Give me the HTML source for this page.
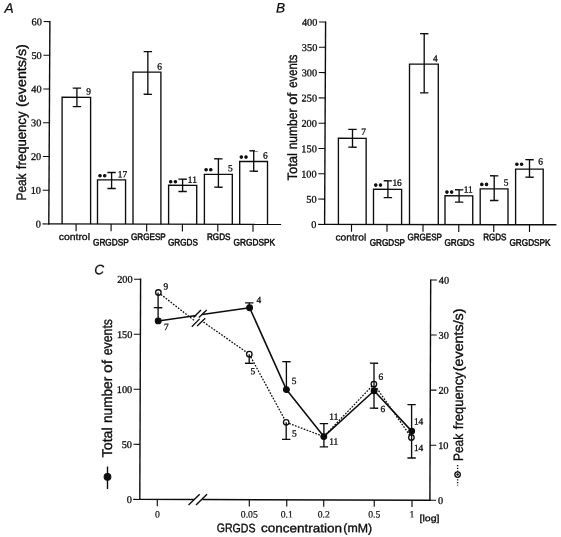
<!DOCTYPE html>
<html><head><meta charset="utf-8"><title>Figure</title>
<style>
html,body{margin:0;padding:0;background:#fff;}
body{width:561px;height:537px;overflow:hidden;}
svg{display:block;will-change:transform;}
svg line,svg path,svg circle{stroke:#0d0d0d;}
text{fill:#0d0d0d;stroke:none;}
.pl{font-family:"Liberation Sans",sans-serif;font-style:italic;font-size:13.7px;stroke:#0d0d0d;stroke-width:0.25px;}
.tk{font-family:"Liberation Serif",serif;font-size:10.3px;stroke:#0d0d0d;stroke-width:0.3px;}
.xt{font-family:"Liberation Serif",serif;font-size:9.7px;stroke:#0d0d0d;stroke-width:0.2px;}
.nm{font-family:"Liberation Serif",serif;font-size:9.4px;stroke:#0d0d0d;stroke-width:0.3px;}
.ct{font-family:"Liberation Sans",sans-serif;font-size:9.6px;stroke:#0d0d0d;stroke-width:0.3px;}
.yl{font-family:"Liberation Sans",sans-serif;font-size:13.6px;stroke:#0d0d0d;stroke-width:0.35px;}
.yc{font-family:"Liberation Sans",sans-serif;font-size:14.2px;stroke:#0d0d0d;stroke-width:0.35px;}
.xl{font-family:"Liberation Sans",sans-serif;font-size:12.2px;stroke:#0d0d0d;stroke-width:0.35px;}
.lg{font-family:"Liberation Sans",sans-serif;font-size:9px;stroke:#0d0d0d;stroke-width:0.3px;}
.cc{font-family:"Liberation Sans",sans-serif;font-size:9.5px;stroke:#0d0d0d;stroke-width:0.5px;}
</style></head>
<body>
<svg width="561" height="537" viewBox="0 0 561 537">
<rect x="0" y="0" width="561" height="537" fill="#fff" stroke="none"/>
<g transform="matrix(1 0.00215 0.00000 1 48.80 223.90)">
<text x="-44.40" y="-211.10" class="pl" >A</text>
<line x1="0.00" y1="0.60" x2="1.10" y2="-202.90" stroke-width="1.4" />
<line x1="-0.60" y1="0.00" x2="232.30" y2="0.00" stroke-width="1.4" />
<line x1="-6.30" y1="-0.00" x2="0.00" y2="-0.00" stroke-width="1.05" />
<text x="-8.00" y="3.60" class="tk" text-anchor="end">0</text>
<line x1="-6.12" y1="-33.72" x2="0.18" y2="-33.72" stroke-width="1.05" />
<text x="-7.82" y="-30.12" class="tk" text-anchor="end">10</text>
<line x1="-5.93" y1="-67.43" x2="0.37" y2="-67.43" stroke-width="1.05" />
<text x="-7.63" y="-63.83" class="tk" text-anchor="end">20</text>
<line x1="-5.75" y1="-101.15" x2="0.55" y2="-101.15" stroke-width="1.05" />
<text x="-7.45" y="-97.55" class="tk" text-anchor="end">30</text>
<line x1="-5.57" y1="-134.87" x2="0.73" y2="-134.87" stroke-width="1.05" />
<text x="-7.27" y="-131.27" class="tk" text-anchor="end">40</text>
<line x1="-5.38" y1="-168.58" x2="0.92" y2="-168.58" stroke-width="1.05" />
<text x="-7.08" y="-164.98" class="tk" text-anchor="end">50</text>
<line x1="-5.20" y1="-202.30" x2="1.10" y2="-202.30" stroke-width="1.05" />
<text x="-6.90" y="-198.70" class="tk" text-anchor="end">60</text>
<text transform="translate(-22.70,-23.35) rotate(-90)" class="yl" textLength="27.00" lengthAdjust="spacingAndGlyphs">Peak</text>
<text transform="translate(-22.70,-54.65) rotate(-90)" class="yl" textLength="57.70" lengthAdjust="spacingAndGlyphs">frequency</text>
<text transform="translate(-22.70,-116.95) rotate(-90)" class="yl" textLength="62.70" lengthAdjust="spacingAndGlyphs">(events/s)</text>
<path d="M13.30 0V-126.66H41.80V0" fill="none" stroke-width="1.35"/>
<line x1="28.10" y1="-135.86" x2="28.10" y2="-117.36" stroke-width="1.35" />
<line x1="23.90" y1="-135.86" x2="32.30" y2="-135.86" stroke-width="1.35" />
<line x1="23.90" y1="-117.36" x2="32.30" y2="-117.36" stroke-width="1.35" />
<path d="M48.70 0V-44.13H76.75V0" fill="none" stroke-width="1.35"/>
<line x1="62.80" y1="-51.54" x2="62.80" y2="-35.54" stroke-width="1.35" />
<line x1="58.60" y1="-51.54" x2="67.00" y2="-51.54" stroke-width="1.35" />
<line x1="58.60" y1="-35.54" x2="67.00" y2="-35.54" stroke-width="1.35" />
<path d="M84.20 0V-152.01H112.10V0" fill="none" stroke-width="1.35"/>
<line x1="99.05" y1="-172.51" x2="99.05" y2="-129.81" stroke-width="1.35" />
<line x1="94.85" y1="-172.51" x2="103.25" y2="-172.51" stroke-width="1.35" />
<line x1="94.85" y1="-129.81" x2="103.25" y2="-129.81" stroke-width="1.35" />
<path d="M119.80 0V-38.89H147.90V0" fill="none" stroke-width="1.35"/>
<line x1="133.80" y1="-44.99" x2="133.80" y2="-32.69" stroke-width="1.35" />
<line x1="129.60" y1="-44.99" x2="138.00" y2="-44.99" stroke-width="1.35" />
<line x1="129.60" y1="-32.69" x2="138.00" y2="-32.69" stroke-width="1.35" />
<path d="M155.60 0V-49.86H183.50V0" fill="none" stroke-width="1.35"/>
<line x1="169.60" y1="-65.46" x2="169.60" y2="-37.06" stroke-width="1.35" />
<line x1="165.40" y1="-65.46" x2="173.80" y2="-65.46" stroke-width="1.35" />
<line x1="165.40" y1="-37.06" x2="173.80" y2="-37.06" stroke-width="1.35" />
<path d="M190.90 0V-62.84H218.70V0" fill="none" stroke-width="1.35"/>
<line x1="204.90" y1="-73.54" x2="204.90" y2="-53.14" stroke-width="1.35" />
<line x1="200.70" y1="-73.54" x2="209.10" y2="-73.54" stroke-width="1.35" />
<line x1="200.70" y1="-53.14" x2="209.10" y2="-53.14" stroke-width="1.35" />
<line x1="27.30" y1="0.00" x2="27.30" y2="7.30" stroke-width="1.1500000000000001" />
<line x1="62.30" y1="0.00" x2="62.30" y2="7.30" stroke-width="1.1500000000000001" />
<line x1="97.85" y1="0.00" x2="97.85" y2="7.30" stroke-width="1.1500000000000001" />
<line x1="133.60" y1="0.00" x2="133.60" y2="7.30" stroke-width="1.1500000000000001" />
<line x1="169.00" y1="0.00" x2="169.00" y2="7.30" stroke-width="1.1500000000000001" />
<line x1="204.20" y1="0.00" x2="204.20" y2="7.30" stroke-width="1.1500000000000001" />
<text x="42.10" y="-129.39" class="nm" text-anchor="end" >9</text>
<text x="78.30" y="-46.77" class="nm" text-anchor="end" >17</text>
<text x="113.20" y="-154.64" class="nm" text-anchor="end" >6</text>
<text x="148.10" y="-41.42" class="nm" text-anchor="end" >11</text>
<text x="183.90" y="-53.00" class="nm" text-anchor="end" >5</text>
<text x="218.80" y="-65.77" class="nm" text-anchor="end" >6</text>
<circle cx="51.20" cy="-48.31" r="1.3" fill="#0d0d0d" stroke="none"/>
<circle cx="55.90" cy="-48.32" r="1.3" fill="#0d0d0d" stroke="none"/>
<circle cx="121.90" cy="-42.36" r="1.3" fill="#0d0d0d" stroke="none"/>
<circle cx="126.60" cy="-42.37" r="1.3" fill="#0d0d0d" stroke="none"/>
<circle cx="157.30" cy="-54.44" r="1.3" fill="#0d0d0d" stroke="none"/>
<circle cx="162.00" cy="-54.45" r="1.3" fill="#0d0d0d" stroke="none"/>
<circle cx="192.50" cy="-67.21" r="1.3" fill="#0d0d0d" stroke="none"/>
<circle cx="197.20" cy="-67.22" r="1.3" fill="#0d0d0d" stroke="none"/>
<text x="9.90" y="16.08" class="ct" textLength="31.30" lengthAdjust="spacingAndGlyphs" >control</text>
<text x="44.20" y="21.50" class="cc" textLength="35.70" lengthAdjust="spacingAndGlyphs" >GRGDSP</text>
<text x="82.20" y="15.92" class="cc" textLength="34.75" lengthAdjust="spacingAndGlyphs" >GRGESP</text>
<text x="119.20" y="21.34" class="cc" textLength="30.00" lengthAdjust="spacingAndGlyphs" >GRGDS</text>
<text x="158.20" y="15.76" class="cc" textLength="23.50" lengthAdjust="spacingAndGlyphs" >RGDS</text>
<text x="184.70" y="21.20" class="cc" textLength="41.50" lengthAdjust="spacingAndGlyphs" >GRGDSPK</text>
</g>
<g transform="matrix(1 0.00170 0.00000 1 324.60 224.40)">
<text x="-48.70" y="-211.72" class="pl" >B</text>
<line x1="0.00" y1="0.60" x2="1.00" y2="-203.00" stroke-width="1.4" />
<line x1="-0.60" y1="0.00" x2="231.80" y2="0.00" stroke-width="1.4" />
<line x1="-6.50" y1="-0.00" x2="0.00" y2="-0.00" stroke-width="1.05" />
<text x="-8.20" y="3.70" class="tk" text-anchor="end">0</text>
<line x1="-6.38" y1="-25.30" x2="0.12" y2="-25.30" stroke-width="1.05" />
<text x="-8.07" y="-21.60" class="tk" text-anchor="end">50</text>
<line x1="-6.25" y1="-50.60" x2="0.25" y2="-50.60" stroke-width="1.05" />
<text x="-7.95" y="-46.90" class="tk" text-anchor="end">100</text>
<line x1="-6.12" y1="-75.90" x2="0.38" y2="-75.90" stroke-width="1.05" />
<text x="-7.82" y="-72.20" class="tk" text-anchor="end">150</text>
<line x1="-6.00" y1="-101.20" x2="0.50" y2="-101.20" stroke-width="1.05" />
<text x="-7.70" y="-97.50" class="tk" text-anchor="end">200</text>
<line x1="-5.88" y1="-126.50" x2="0.62" y2="-126.50" stroke-width="1.05" />
<text x="-7.57" y="-122.80" class="tk" text-anchor="end">250</text>
<line x1="-5.75" y1="-151.80" x2="0.75" y2="-151.80" stroke-width="1.05" />
<text x="-7.45" y="-148.10" class="tk" text-anchor="end">300</text>
<line x1="-5.62" y1="-177.10" x2="0.88" y2="-177.10" stroke-width="1.05" />
<text x="-7.32" y="-173.40" class="tk" text-anchor="end">350</text>
<line x1="-5.50" y1="-202.40" x2="1.00" y2="-202.40" stroke-width="1.05" />
<text x="-7.20" y="-198.70" class="tk" text-anchor="end">400</text>
<text transform="translate(-27.80,-43.75) rotate(-90)" class="yl" textLength="27.50" lengthAdjust="spacingAndGlyphs">Total</text>
<text transform="translate(-27.80,-75.05) rotate(-90)" class="yl" textLength="40.70" lengthAdjust="spacingAndGlyphs">number</text>
<text transform="translate(-27.80,-119.55) rotate(-90)" class="yl" textLength="12.10" lengthAdjust="spacingAndGlyphs">of</text>
<text transform="translate(-27.80,-136.65) rotate(-90)" class="yl" textLength="33.20" lengthAdjust="spacingAndGlyphs">events</text>
<path d="M13.80 0V-86.15H41.55V0" fill="none" stroke-width="1.35"/>
<line x1="27.90" y1="-95.05" x2="27.90" y2="-77.25" stroke-width="1.35" />
<line x1="23.70" y1="-95.05" x2="32.10" y2="-95.05" stroke-width="1.35" />
<line x1="23.70" y1="-77.25" x2="32.10" y2="-77.25" stroke-width="1.35" />
<path d="M48.90 0V-35.21H77.00V0" fill="none" stroke-width="1.35"/>
<line x1="63.30" y1="-43.71" x2="63.30" y2="-26.91" stroke-width="1.35" />
<line x1="59.10" y1="-43.71" x2="67.50" y2="-43.71" stroke-width="1.35" />
<line x1="59.10" y1="-26.91" x2="67.50" y2="-26.91" stroke-width="1.35" />
<path d="M84.90 0V-160.47H113.70V0" fill="none" stroke-width="1.35"/>
<line x1="99.60" y1="-190.87" x2="99.60" y2="-131.67" stroke-width="1.35" />
<line x1="95.40" y1="-190.87" x2="103.80" y2="-190.87" stroke-width="1.35" />
<line x1="95.40" y1="-131.67" x2="103.80" y2="-131.67" stroke-width="1.35" />
<path d="M120.40 0V-28.83H148.15V0" fill="none" stroke-width="1.35"/>
<line x1="134.50" y1="-34.83" x2="134.50" y2="-22.53" stroke-width="1.35" />
<line x1="130.30" y1="-34.83" x2="138.70" y2="-34.83" stroke-width="1.35" />
<line x1="130.30" y1="-22.53" x2="138.70" y2="-22.53" stroke-width="1.35" />
<path d="M155.60 0V-35.79H183.40V0" fill="none" stroke-width="1.35"/>
<line x1="169.60" y1="-48.89" x2="169.60" y2="-24.19" stroke-width="1.35" />
<line x1="165.40" y1="-48.89" x2="173.80" y2="-48.89" stroke-width="1.35" />
<line x1="165.40" y1="-24.19" x2="173.80" y2="-24.19" stroke-width="1.35" />
<path d="M191.00 0V-55.65H218.60V0" fill="none" stroke-width="1.35"/>
<line x1="204.90" y1="-65.05" x2="204.90" y2="-47.55" stroke-width="1.35" />
<line x1="200.70" y1="-65.05" x2="209.10" y2="-65.05" stroke-width="1.35" />
<line x1="200.70" y1="-47.55" x2="209.10" y2="-47.55" stroke-width="1.35" />
<line x1="26.90" y1="0.00" x2="26.90" y2="7.30" stroke-width="1.1500000000000001" />
<line x1="62.40" y1="0.00" x2="62.40" y2="7.30" stroke-width="1.1500000000000001" />
<line x1="98.40" y1="0.00" x2="98.40" y2="7.30" stroke-width="1.1500000000000001" />
<line x1="134.15" y1="0.00" x2="134.15" y2="7.30" stroke-width="1.1500000000000001" />
<line x1="169.15" y1="0.00" x2="169.15" y2="7.30" stroke-width="1.1500000000000001" />
<line x1="204.90" y1="0.00" x2="204.90" y2="7.30" stroke-width="1.1500000000000001" />
<text x="41.40" y="-89.67" class="nm" text-anchor="end" >7</text>
<text x="77.20" y="-38.83" class="nm" text-anchor="end" >16</text>
<text x="113.00" y="-162.99" class="nm" text-anchor="end" >4</text>
<text x="148.10" y="-32.15" class="nm" text-anchor="end" >11</text>
<text x="183.90" y="-39.21" class="nm" text-anchor="end" >5</text>
<text x="218.40" y="-60.27" class="nm" text-anchor="end" >6</text>
<circle cx="51.20" cy="-39.39" r="1.3" fill="#0d0d0d" stroke="none"/>
<circle cx="55.90" cy="-39.40" r="1.3" fill="#0d0d0d" stroke="none"/>
<circle cx="122.35" cy="-32.51" r="1.3" fill="#0d0d0d" stroke="none"/>
<circle cx="127.05" cy="-32.52" r="1.3" fill="#0d0d0d" stroke="none"/>
<circle cx="157.25" cy="-40.27" r="1.3" fill="#0d0d0d" stroke="none"/>
<circle cx="161.95" cy="-40.28" r="1.3" fill="#0d0d0d" stroke="none"/>
<circle cx="192.30" cy="-60.43" r="1.3" fill="#0d0d0d" stroke="none"/>
<circle cx="197.00" cy="-60.43" r="1.3" fill="#0d0d0d" stroke="none"/>
<text x="10.90" y="16.08" class="ct" textLength="30.75" lengthAdjust="spacingAndGlyphs" >control</text>
<text x="45.15" y="21.27" class="cc" textLength="35.25" lengthAdjust="spacingAndGlyphs" >GRGDSP</text>
<text x="82.90" y="15.71" class="cc" textLength="34.50" lengthAdjust="spacingAndGlyphs" >GRGESP</text>
<text x="119.90" y="21.15" class="cc" textLength="30.00" lengthAdjust="spacingAndGlyphs" >GRGDS</text>
<text x="158.65" y="15.58" class="cc" textLength="23.25" lengthAdjust="spacingAndGlyphs" >RGDS</text>
<text x="184.90" y="21.04" class="cc" textLength="41.00" lengthAdjust="spacingAndGlyphs" >GRGDSPK</text>
</g>
<g transform="matrix(1 0.00276 0.00000 1 139.80 499.40)">
<text x="-45.60" y="-224.97" class="pl" >C</text>
<line x1="0.00" y1="0.60" x2="0.80" y2="-220.80" stroke-width="1.4" />
<line x1="290.10" y1="0.60" x2="290.90" y2="-220.80" stroke-width="1.4" />
<line x1="-0.60" y1="0.00" x2="54.10" y2="0.00" stroke-width="1.4" />
<line x1="62.50" y1="0.00" x2="290.70" y2="0.00" stroke-width="1.4" />
<line x1="48.75" y1="5.47" x2="59.90" y2="-5.27" stroke-width="1.45" />
<line x1="56.20" y1="5.44" x2="67.20" y2="-5.29" stroke-width="1.45" />
<line x1="-6.60" y1="-0.00" x2="0.00" y2="-0.00" stroke-width="1.05" />
<text x="-8.00" y="3.70" class="tk" text-anchor="end">0</text>
<line x1="-6.40" y1="-55.05" x2="0.20" y2="-55.05" stroke-width="1.05" />
<text x="-7.80" y="-51.35" class="tk" text-anchor="end">50</text>
<line x1="-6.20" y1="-110.10" x2="0.40" y2="-110.10" stroke-width="1.05" />
<text x="-7.60" y="-106.40" class="tk" text-anchor="end">100</text>
<line x1="-6.00" y1="-165.15" x2="0.60" y2="-165.15" stroke-width="1.05" />
<text x="-7.40" y="-161.45" class="tk" text-anchor="end">150</text>
<line x1="-5.80" y1="-220.20" x2="0.80" y2="-220.20" stroke-width="1.05" />
<text x="-7.20" y="-216.50" class="tk" text-anchor="end">200</text>
<line x1="290.10" y1="-0.00" x2="296.30" y2="-0.00" stroke-width="1.05" />
<text x="298.20" y="3.70" class="tk">0</text>
<line x1="290.30" y1="-55.05" x2="296.50" y2="-55.05" stroke-width="1.05" />
<text x="298.40" y="-51.35" class="tk">10</text>
<line x1="290.50" y1="-110.10" x2="296.70" y2="-110.10" stroke-width="1.05" />
<text x="298.60" y="-106.40" class="tk">20</text>
<line x1="290.70" y1="-165.15" x2="296.90" y2="-165.15" stroke-width="1.05" />
<text x="298.80" y="-161.45" class="tk">30</text>
<line x1="290.90" y1="-220.20" x2="297.10" y2="-220.20" stroke-width="1.05" />
<text x="299.00" y="-216.50" class="tk">40</text>
<line x1="17.50" y1="0.00" x2="17.50" y2="6.80" stroke-width="1.1500000000000001" />
<line x1="109.50" y1="0.00" x2="109.50" y2="6.80" stroke-width="1.1500000000000001" />
<line x1="146.95" y1="0.00" x2="146.95" y2="6.80" stroke-width="1.1500000000000001" />
<line x1="183.90" y1="0.00" x2="183.90" y2="6.80" stroke-width="1.1500000000000001" />
<line x1="234.45" y1="0.00" x2="234.45" y2="6.80" stroke-width="1.1500000000000001" />
<line x1="272.20" y1="0.00" x2="272.20" y2="6.80" stroke-width="1.1500000000000001" />
<text x="17.50" y="18.05" class="xt" text-anchor="middle" >0</text>
<text x="109.50" y="17.80" class="xt" text-anchor="middle" >0.05</text>
<text x="146.95" y="17.69" class="xt" text-anchor="middle" >0.1</text>
<text x="183.90" y="17.59" class="xt" text-anchor="middle" >0.2</text>
<text x="234.45" y="17.45" class="xt" text-anchor="middle" >0.5</text>
<text x="272.20" y="17.35" class="xt" text-anchor="middle" >1</text>
<text x="279.70" y="21.13" class="lg" textLength="20.00" lengthAdjust="spacingAndGlyphs" >[log]</text>
<text x="76.90" y="32.49" class="xl" textLength="38.80" lengthAdjust="spacingAndGlyphs" >GRGDS</text>
<text x="121.10" y="32.37" class="xl" textLength="81.20" lengthAdjust="spacingAndGlyphs" >concentration</text>
<text x="203.50" y="32.14" class="xl" textLength="28.80" lengthAdjust="spacingAndGlyphs" >(mM)</text>
<text transform="translate(-27.50,-41.92) rotate(-90)" class="yc" textLength="30.10" lengthAdjust="spacingAndGlyphs">Total</text>
<text transform="translate(-27.50,-76.32) rotate(-90)" class="yc" textLength="46.20" lengthAdjust="spacingAndGlyphs">number</text>
<text transform="translate(-27.50,-126.42) rotate(-90)" class="yc" textLength="12.90" lengthAdjust="spacingAndGlyphs">of</text>
<text transform="translate(-27.50,-144.02) rotate(-90)" class="yc" textLength="36.30" lengthAdjust="spacingAndGlyphs">events</text>
<text transform="translate(322.90,-39.29) rotate(-90)" class="yl" textLength="27.20" lengthAdjust="spacingAndGlyphs">Peak</text>
<text transform="translate(322.90,-71.09) rotate(-90)" class="yl" textLength="57.00" lengthAdjust="spacingAndGlyphs">frequency</text>
<text transform="translate(322.90,-129.09) rotate(-90)" class="yl" textLength="62.70" lengthAdjust="spacingAndGlyphs">(events/s)</text>
<line x1="-32.30" y1="-32.81" x2="-32.30" y2="-10.31" stroke-width="1.4" />
<circle cx="-32.30" cy="-22.51" r="3.4" fill="#0d0d0d" stroke="none"/>
<line x1="317.80" y1="-35.38" x2="317.80" y2="-14.68" stroke-width="1.35" stroke-dasharray="1.3 1.55"/>
<circle cx="317.80" cy="-25.68" r="2.75" fill="#fff" stroke-width="1.3"/>
<circle cx="317.80" cy="-25.68" r="0.75" fill="#0d0d0d" stroke="none"/>
<path d="M18.40 -178.55L56.50 -184.16M62.40 -185.03L109.80 -192.00L146.60 -110.20L184.00 -63.31L234.30 -109.25L271.90 -69.05" fill="none" stroke-width="1.55" stroke-linejoin="round" />
<path d="M18.55 -206.95L54.60 -178.95M63.70 -177.48L109.50 -145.50L146.40 -77.50L184.00 -63.31L234.10 -115.95L271.60 -62.65" fill="none" stroke-width="1.3" stroke-dasharray="1.7 1.4"/>
<line x1="53.70" y1="-182.05" x2="61.20" y2="-189.57" stroke-width="1.35" />
<line x1="59.10" y1="-182.06" x2="66.90" y2="-189.58" stroke-width="1.35" />
<line x1="52.00" y1="-172.84" x2="59.80" y2="-180.67" stroke-width="1.35" />
<line x1="57.30" y1="-173.56" x2="65.50" y2="-181.38" stroke-width="1.35" />
<circle cx="18.40" cy="-178.55" r="2.95" fill="#0d0d0d" stroke="none"/>
<circle cx="109.80" cy="-192.00" r="2.95" fill="#0d0d0d" stroke="none"/>
<circle cx="146.60" cy="-110.20" r="2.95" fill="#0d0d0d" stroke="none"/>
<circle cx="184.00" cy="-63.31" r="2.95" fill="#0d0d0d" stroke="none"/>
<circle cx="234.30" cy="-109.25" r="2.95" fill="#0d0d0d" stroke="none"/>
<circle cx="271.90" cy="-69.05" r="2.95" fill="#0d0d0d" stroke="none"/>
<circle cx="18.55" cy="-206.95" r="2.75" fill="#fff" stroke-width="1.3"/>
<circle cx="109.50" cy="-145.50" r="2.75" fill="#fff" stroke-width="1.3"/>
<circle cx="146.40" cy="-77.50" r="2.75" fill="#fff" stroke-width="1.3"/>
<circle cx="234.10" cy="-115.95" r="2.75" fill="#fff" stroke-width="1.3"/>
<circle cx="271.60" cy="-62.65" r="2.75" fill="#fff" stroke-width="1.3"/>
<line x1="18.30" y1="-206.95" x2="18.30" y2="-178.55" stroke-width="1.35" />
<line x1="14.00" y1="-191.74" x2="22.50" y2="-191.76" stroke-width="1.35" />
<line x1="109.50" y1="-196.80" x2="109.50" y2="-192.00" stroke-width="1.35" />
<line x1="105.30" y1="-196.80" x2="113.70" y2="-196.80" stroke-width="1.35" />
<line x1="109.40" y1="-145.50" x2="109.40" y2="-136.40" stroke-width="1.35" />
<line x1="105.20" y1="-136.40" x2="113.60" y2="-136.40" stroke-width="1.35" />
<line x1="146.60" y1="-138.10" x2="146.60" y2="-110.20" stroke-width="1.35" />
<line x1="142.40" y1="-138.10" x2="150.80" y2="-138.10" stroke-width="1.35" />
<line x1="146.40" y1="-77.50" x2="146.40" y2="-60.40" stroke-width="1.35" />
<line x1="142.20" y1="-60.40" x2="150.60" y2="-60.40" stroke-width="1.35" />
<line x1="184.10" y1="-76.31" x2="184.10" y2="-53.01" stroke-width="1.35" />
<line x1="179.90" y1="-76.31" x2="188.30" y2="-76.31" stroke-width="1.35" />
<line x1="179.90" y1="-53.01" x2="188.30" y2="-53.01" stroke-width="1.35" />
<line x1="234.20" y1="-136.85" x2="234.20" y2="-91.85" stroke-width="1.35" />
<line x1="230.00" y1="-136.85" x2="238.40" y2="-136.85" stroke-width="1.35" />
<line x1="230.00" y1="-91.85" x2="238.40" y2="-91.85" stroke-width="1.35" />
<line x1="271.80" y1="-95.55" x2="271.80" y2="-42.15" stroke-width="1.35" />
<line x1="267.60" y1="-95.55" x2="276.00" y2="-95.55" stroke-width="1.35" />
<line x1="267.60" y1="-42.15" x2="276.00" y2="-42.15" stroke-width="1.35" />
<text x="23.60" y="-210.07" class="nm" >9</text>
<text x="24.10" y="-169.47" class="nm" >7</text>
<text x="116.70" y="-196.62" class="nm" >4</text>
<text x="110.60" y="-125.51" class="nm" >5</text>
<text x="151.90" y="-115.82" class="nm" >5</text>
<text x="152.10" y="-63.42" class="nm" >5</text>
<text x="189.50" y="-80.12" class="nm" >11</text>
<text x="189.40" y="-55.42" class="nm" >11</text>
<text x="238.70" y="-120.36" class="nm" >6</text>
<text x="240.70" y="-88.06" class="nm" >6</text>
<text x="274.10" y="-75.66" class="nm" >14</text>
<text x="274.10" y="-49.16" class="nm" >14</text>
</g>
</svg>
</body></html>
